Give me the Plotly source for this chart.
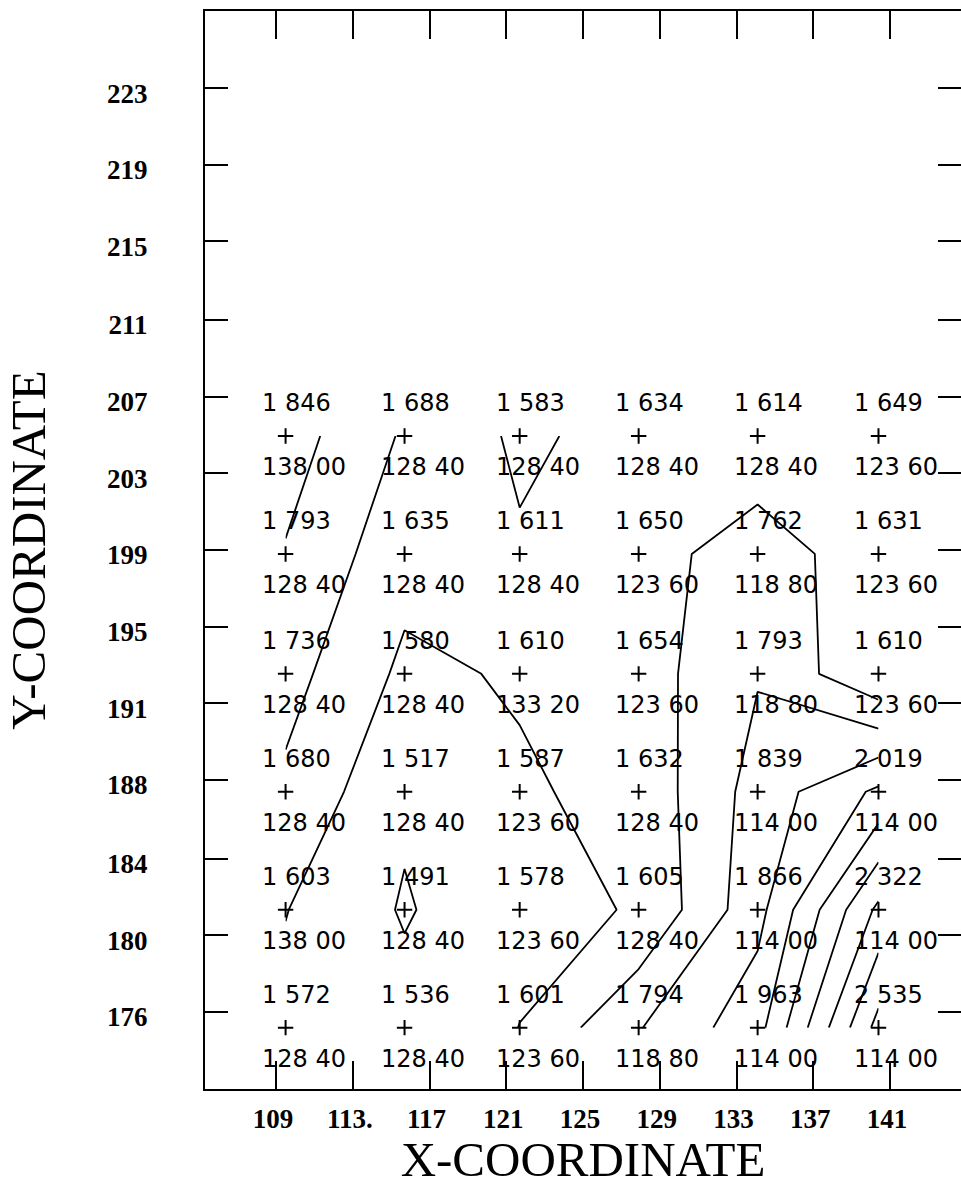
import plotly.graph_objects as go

# grid node coordinates (columns left->right, rows top->bottom)
col_x = [109.5, 115.7, 121.7, 127.9, 134.1, 140.4]
row_y = [205.3, 199.3, 193.2, 187.2, 181.2, 175.2]

# upper value printed above each node (contoured quantity)
upper_vals = [
    [1.846, 1.688, 1.583, 1.634, 1.614, 1.649],
    [1.793, 1.635, 1.611, 1.650, 1.762, 1.631],
    [1.736, 1.580, 1.610, 1.654, 1.793, 1.610],
    [1.680, 1.517, 1.587, 1.632, 1.839, 2.019],
    [1.603, 1.491, 1.578, 1.605, 1.866, 2.322],
    [1.572, 1.536, 1.601, 1.794, 1.963, 2.535],
]

# lower value printed below each node
lower_vals = [
    [138.00, 128.40, 128.40, 128.40, 128.40, 123.60],
    [128.40, 128.40, 128.40, 123.60, 118.80, 123.60],
    [128.40, 128.40, 133.20, 123.60, 118.80, 123.60],
    [128.40, 128.40, 123.60, 128.40, 114.00, 114.00],
    [138.00, 128.40, 123.60, 128.40, 114.00, 114.00],
    [128.40, 128.40, 123.60, 118.80, 114.00, 114.00],
]

contour_start = 1.5
contour_end = 2.5
contour_step = 0.1

x_tick_vals = [109, 113, 117, 121, 125, 129, 133, 137, 141]
x_tick_text = ["109", "113.", "117", "121", "125", "129", "133", "137", "141"]
y_tick_vals = [176.0, 179.9, 183.8, 187.8, 191.7, 195.6, 199.5, 203.4,
               207.3, 211.2, 215.2, 219.1, 223.0]
y_tick_text = ["176", "180", "184", "188", "191", "195", "199", "203",
               "207", "211", "215", "219", "223"]

fig = go.Figure()

# contour lines of the upper values
fig.add_trace(go.Contour(
    x=col_x,
    y=row_y[::-1],
    z=upper_vals[::-1],
    contours=dict(start=contour_start, end=contour_end, size=contour_step,
                  coloring="none", showlabels=False),
    line=dict(color="black", width=1.8, smoothing=0),
    showscale=False,
    hoverinfo="skip",
))

# node markers
gx = [x for _ in row_y for x in col_x]
gy = [y for y in row_y for _ in col_x]
fig.add_trace(go.Scatter(
    x=gx, y=gy, mode="markers",
    marker=dict(symbol="cross-thin", size=11, color="black",
                line=dict(width=2, color="black")),
    hoverinfo="skip", showlegend=False,
))

# dummy trace to activate the right-hand tick axis
fig.add_trace(go.Scatter(x=[None], y=[None], yaxis="y2", showlegend=False,
                         hoverinfo="skip"))

lab_font = dict(family="DejaVu Sans", size=24, color="black")
annotations = []
for i, y in enumerate(row_y):
    for j, x in enumerate(col_x):
        up = f"{upper_vals[i][j]:.3f}".replace(".", " ")
        lo = f"{lower_vals[i][j]:.2f}".replace(".", " ")
        annotations.append(dict(x=x, y=y, xref="x", yref="y", text=up,
                                showarrow=False, xanchor="left", yanchor="middle",
                                xshift=-26, yshift=33, font=lab_font))
        annotations.append(dict(x=x, y=y, xref="x", yref="y", text=lo,
                                showarrow=False, xanchor="left", yanchor="middle",
                                xshift=-26, yshift=-31, font=lab_font))

tick_font = dict(family="Liberation Serif", size=27, color="black", weight="bold")
title_font = dict(family="Liberation Serif", size=49, color="black")

fig.update_layout(
    width=961, height=1187,
    margin=dict(l=205, r=0, t=11, b=98),
    paper_bgcolor="white", plot_bgcolor="white",
    showlegend=False,
    hovermode=False,
    annotations=annotations,
    xaxis=dict(
        range=[105.3, 144.7],
        tickmode="array", tickvals=x_tick_vals, ticktext=x_tick_text,
        ticks="inside", ticklen=28, tickwidth=2, tickcolor="black",
        showline=True, linewidth=2, linecolor="black", mirror="ticks",
        showgrid=False, zeroline=False,
        tickfont=tick_font, ticklabelstandoff=5, ticklabelshift=-3,
        title=dict(text="X-COORDINATE", font=title_font, standoff=8),
    ),
    yaxis=dict(
        range=[172.08, 226.92],
        tickmode="array", tickvals=y_tick_vals, ticktext=y_tick_text,
        ticks="inside", ticklen=23, tickwidth=2, tickcolor="black",
        showline=True, linewidth=2, linecolor="black", mirror=False,
        showgrid=False, zeroline=False,
        tickfont=tick_font, ticklabelstandoff=50, ticklabelshift=5,
        title=dict(text="Y-COORDINATE", font=title_font, standoff=46),
    ),
    yaxis2=dict(
        overlaying="y", side="right", matches="y",
        tickmode="array", tickvals=y_tick_vals,
        ticks="inside", ticklen=23, tickwidth=2, tickcolor="black",
        showticklabels=False, showline=False, showgrid=False, zeroline=False,
    ),
)

fig.write_html(
    "out.html",
    config={"displayModeBar": False},
    post_script="document.body.style.margin='0px';document.body.style.overflow='hidden';",
)
